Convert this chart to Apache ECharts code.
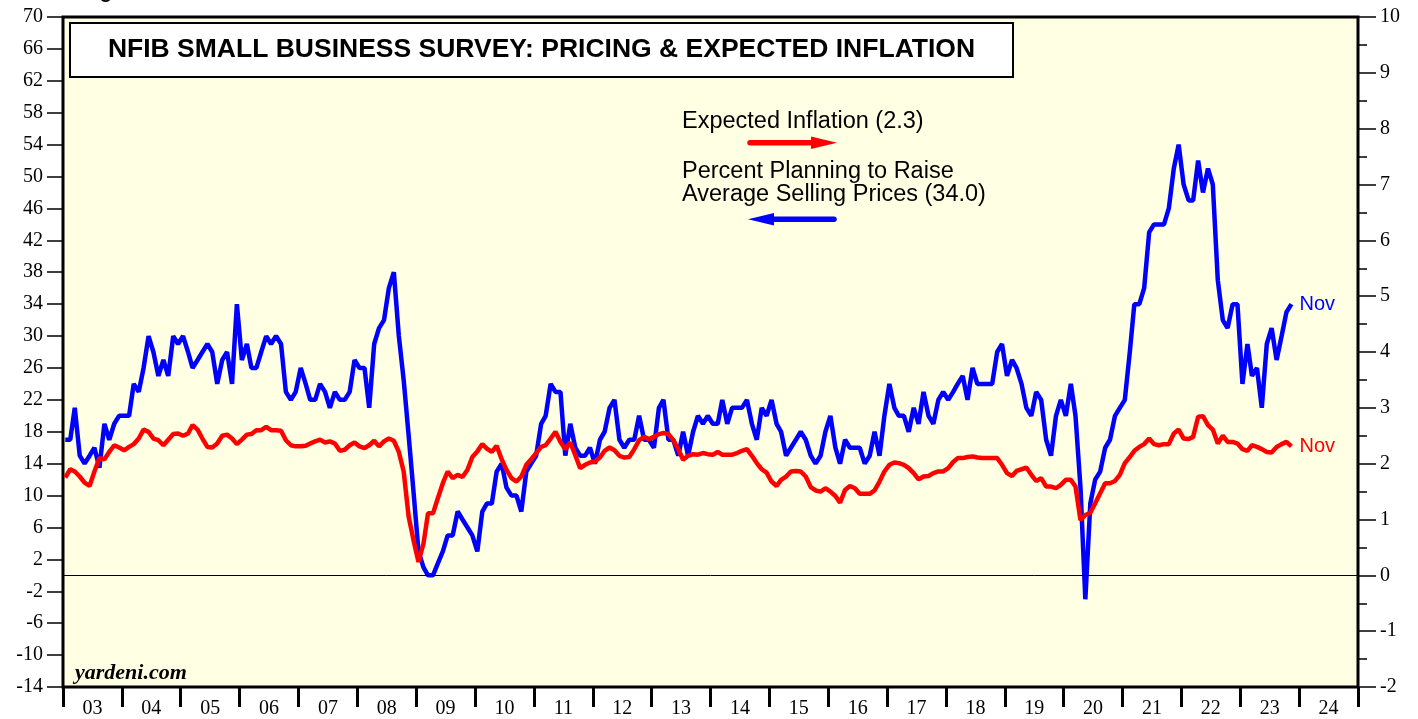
<!DOCTYPE html>
<html>
<head>
<meta charset="utf-8">
<title>NFIB Small Business Survey: Pricing & Expected Inflation</title>
<script src="https://cdn.jsdelivr.net/npm/echarts@6.0.0/dist/echarts.min.js"></script>
<style>
  html, body { margin: 0; padding: 0; background: #fff; }
  #chart { width: 1418px; height: 719px; }
</style>
</head>
<body>
<div id="chart"></div>
<script>
// monthly data, Jan 2003 .. Nov 2023
var START_YEAR = 2003;

// net % planning to raise average selling prices (left axis)
var PRICE_PLANS = [
  17, 17, 21, 15, 14, 15, 16, 13.5, 19, 17, 19, 20,   // 03
  20, 20, 24, 23, 26, 30, 28, 25, 27, 25, 30, 29,     // 04
  30, 28, 26, 27, 28, 29, 28, 24, 27, 28, 24, 34,     // 05
  27, 29, 26, 26, 28, 30, 29, 30, 29, 23, 22, 23,     // 06
  26, 24, 22, 22, 24, 23, 21, 23, 22, 22, 23, 27,     // 07
  26, 26, 21, 29, 31, 32, 36, 38, 30, 24.5, 17.5, 10.5, // 08
  3, 1, 0, 0, 1.5, 3, 5, 5, 8, 7, 6, 5,               // 09
  3, 8, 9, 9, 13, 14, 11, 10, 10, 8, 13, 14,          // 10
  15, 19, 20, 24, 23, 23, 15, 19, 16, 15, 15, 16,     // 11
  14, 17, 18, 21, 22, 17, 16, 17, 17, 20, 17, 17,     // 12
  16, 21, 22, 17, 17, 15, 18, 15, 18, 20, 19, 20,     // 13
  19, 19, 22, 19, 21, 21, 21, 22, 19, 17, 21, 20,     // 14
  22, 19, 18, 15, 16, 17, 18, 17, 15, 14, 15, 18,     // 15
  20, 16, 14, 17, 16, 16, 16, 14, 15, 18, 15, 20,     // 16
  24, 21, 20, 20, 18, 21, 19, 23, 20, 19, 22, 23,     // 17
  22, 23, 24, 25, 22, 26, 24, 24, 24, 24, 28, 29,     // 18
  25, 27, 26, 24, 21, 20, 23, 22, 17, 15, 20, 22,     // 19
  20, 24, 20, 11, -3, 9, 12, 13, 16, 17, 20, 21,      // 20
  22, 28, 34, 34, 36, 43, 44, 44, 44, 46, 51, 54,     // 21
  49, 47, 47, 52, 48, 51, 49, 37, 32, 31, 34, 34,     // 22
  24, 29, 25, 26, 21, 29, 31, 27, 30, 33, 34          // 23
];

// expected inflation, % (right axis)
var EXP_INFLATION = [
  1.75, 1.90, 1.86, 1.77, 1.66, 1.60, 1.86, 2.10, 2.08, 2.21, 2.33, 2.29,
  2.24, 2.30, 2.35, 2.45, 2.61, 2.57, 2.45, 2.42, 2.33, 2.43, 2.53, 2.54,
  2.50, 2.54, 2.69, 2.61, 2.45, 2.30, 2.29, 2.36, 2.50, 2.52, 2.45, 2.35,
  2.43, 2.52, 2.53, 2.60, 2.60, 2.66, 2.60, 2.60, 2.59, 2.42, 2.33, 2.31,
  2.31, 2.32, 2.36, 2.40, 2.43, 2.38, 2.40, 2.36, 2.23, 2.25, 2.33, 2.38,
  2.31, 2.28, 2.33, 2.41, 2.31, 2.40, 2.45, 2.41, 2.21, 1.86, 1.05, 0.63,
  0.24, 0.57, 1.11, 1.11, 1.38, 1.65, 1.86, 1.74, 1.80, 1.76, 1.89, 2.12,
  2.22, 2.35, 2.27, 2.21, 2.32, 2.08, 1.89, 1.74, 1.68, 1.77, 1.98, 2.08,
  2.19, 2.30, 2.33, 2.45, 2.57, 2.39, 2.26, 2.38, 2.15, 1.92, 1.98, 2.02,
  2.04, 2.11, 2.23, 2.29, 2.24, 2.14, 2.11, 2.12, 2.26, 2.42, 2.48, 2.44,
  2.48, 2.53, 2.55, 2.53, 2.42, 2.26, 2.07, 2.14, 2.17, 2.16, 2.19, 2.17,
  2.16, 2.21, 2.16, 2.16, 2.16, 2.19, 2.23, 2.26, 2.14, 2.01, 1.90, 1.84,
  1.68, 1.60, 1.71, 1.77, 1.86, 1.87, 1.86, 1.77, 1.58, 1.52, 1.50, 1.56,
  1.50, 1.42, 1.30, 1.53, 1.60, 1.56, 1.46, 1.46, 1.46, 1.52, 1.68, 1.86,
  1.98, 2.02, 2.01, 1.98, 1.92, 1.83, 1.72, 1.77, 1.78, 1.83, 1.86, 1.86,
  1.92, 2.03, 2.10, 2.10, 2.12, 2.13, 2.11, 2.10, 2.10, 2.10, 2.10, 1.98,
  1.83, 1.78, 1.87, 1.90, 1.93, 1.80, 1.69, 1.74, 1.59, 1.59, 1.56, 1.62,
  1.71, 1.71, 1.59, 0.99, 1.08, 1.12, 1.29, 1.47, 1.65, 1.65, 1.69, 1.80,
  2.01, 2.12, 2.23, 2.30, 2.35, 2.45, 2.35, 2.33, 2.35, 2.35, 2.54, 2.61,
  2.45, 2.44, 2.48, 2.84, 2.85, 2.69, 2.61, 2.36, 2.50, 2.39, 2.39, 2.36,
  2.26, 2.23, 2.33, 2.30, 2.26, 2.21, 2.20, 2.30, 2.35, 2.39, 2.31
];

var YEAR_LABELS = ['03', '04', '05', '06', '07', '08', '09', '10', '11', '12', '13',
                   '14', '15', '16', '17', '18', '19', '20', '21', '22', '23', '24'];
var LEFT_TICKS = [-14, -10, -6, -2, 2, 6, 10, 14, 18, 22, 26, 30, 34, 38, 42, 46, 50, 54, 58, 62, 66, 70];

var SERIF = '"Liberation Serif", "Times New Roman", serif';
var SANS = '"Liberation Sans", Arial, sans-serif';

// month dates, plotted mid-month
var dates = PRICE_PLANS.map(function (v, i) {
  return new Date(START_YEAR + Math.floor(i / 12), i % 12, 15).getTime();
});

var chart = echarts.init(document.getElementById('chart'));

var option = {
  animation: false,
  backgroundColor: '#fff',
  grid: {
    left: 63, right: 60, top: 17, bottom: 32,
    show: true,
    backgroundColor: '#FFFFE3',
    borderColor: '#000',
    borderWidth: 3
  },
  xAxis: [
    {
      type: 'category',
      data: YEAR_LABELS,
      boundaryGap: true,
      axisLine: { show: false, onZero: false },
      axisTick: { show: true, interval: 0, length: 20, lineStyle: { color: '#000', width: 3 } },
      axisLabel: { interval: 0, color: '#000', fontFamily: SERIF, fontSize: 20, margin: 12 },
      splitLine: { show: false }
    },
    {
      type: 'time',
      min: new Date(START_YEAR, 0, 1).getTime(),
      max: new Date(2025, 0, 1).getTime(),
      axisLine: { onZero: false },
      show: false
    }
  ],
  yAxis: [
    {
      type: 'value',
      position: 'left',
      min: -14,
      max: 70,
      axisLine: { show: false },
      axisTick: { show: true, customValues: LEFT_TICKS, length: 16, lineStyle: { color: '#000', width: 1.5 } },
      axisLabel: { customValues: LEFT_TICKS, color: '#000', fontFamily: SERIF, fontSize: 20, margin: 20 },
      splitLine: { show: false }
    },
    {
      type: 'value',
      position: 'right',
      min: -2,
      max: 10,
      interval: 1,
      axisLine: { show: false },
      axisTick: { show: true, length: 18, lineStyle: { color: '#000', width: 1.5 } },
      minorTick: { show: true, splitNumber: 2, length: 9, lineStyle: { color: '#000', width: 1.5 } },
      axisLabel: { color: '#000', fontFamily: SERIF, fontSize: 20, margin: 22 },
      splitLine: { show: false },
      minorSplitLine: { show: false }
    }
  ],
  series: [
    {
      name: 'Percent Planning to Raise Average Selling Prices',
      type: 'line',
      xAxisIndex: 1,
      yAxisIndex: 0,
      data: dates.map(function (d, i) { return [d, PRICE_PLANS[i]]; }),
      symbol: 'none',
      lineStyle: { color: '#0000FF', width: 4.5 },
      itemStyle: { color: '#0000FF' },
      endLabel: { show: true, formatter: 'Nov', color: '#0000FF', fontFamily: SANS, fontSize: 20, distance: 8 },
      markLine: {
        silent: true,
        symbol: 'none',
        label: { show: false },
        lineStyle: { color: '#000', width: 1, type: 'solid' },
        data: [{ yAxis: 0 }]
      },
      z: 3
    },
    {
      name: 'Expected Inflation',
      type: 'line',
      xAxisIndex: 1,
      yAxisIndex: 1,
      data: dates.map(function (d, i) { return [d, EXP_INFLATION[i]]; }),
      symbol: 'none',
      lineStyle: { color: '#FF0000', width: 4.5 },
      itemStyle: { color: '#FF0000' },
      endLabel: { show: true, formatter: 'Nov', color: '#FF0000', fontFamily: SANS, fontSize: 20, distance: 8 },
      z: 4
    }
  ],
  graphic: [
    // clipped caption above the frame
    {
      type: 'text', x: 82, y: 2, z: 0,
      style: { text: 'Figure 6.', fill: '#000', fontFamily: SANS, fontWeight: 'bold', fontSize: 20, align: 'left', verticalAlign: 'bottom' }
    },
    {
      type: 'rect', z: 100,
      shape: { x: 70, y: 23, width: 943, height: 54 },
      style: { fill: '#fff', stroke: '#000', lineWidth: 2 }
    },
    {
      type: 'text', x: 541.5, y: 50, z: 101,
      style: {
        text: 'NFIB SMALL BUSINESS SURVEY: PRICING & EXPECTED INFLATION',
        fill: '#000', fontFamily: SANS, fontWeight: 'bold', fontSize: 26.5,
        align: 'center', verticalAlign: 'middle'
      }
    },
    {
      type: 'text', x: 682, y: 122, z: 101,
      style: { text: 'Expected Inflation (2.3)', fill: '#000', fontFamily: SANS, fontSize: 23.5, align: 'left', verticalAlign: 'middle' }
    },
    {
      type: 'line', z: 101,
      shape: { x1: 750, y1: 142.7, x2: 815, y2: 142.7 },
      style: { stroke: '#FF0000', lineWidth: 5.5, lineCap: 'round' }
    },
    {
      type: 'polygon', z: 101,
      shape: { points: [[811, 136.5], [837, 142.7], [811, 149]] },
      style: { fill: '#FF0000' }
    },
    {
      type: 'text', x: 682, y: 171.5, z: 101,
      style: { text: 'Percent Planning to Raise', fill: '#000', fontFamily: SANS, fontSize: 23.5, align: 'left', verticalAlign: 'middle' }
    },
    {
      type: 'text', x: 682, y: 194.5, z: 101,
      style: { text: 'Average Selling Prices (34.0)', fill: '#000', fontFamily: SANS, fontSize: 23.5, align: 'left', verticalAlign: 'middle' }
    },
    {
      type: 'line', z: 101,
      shape: { x1: 770, y1: 219.3, x2: 834, y2: 219.3 },
      style: { stroke: '#0000FF', lineWidth: 5.5, lineCap: 'round' }
    },
    {
      type: 'polygon', z: 101,
      shape: { points: [[774, 213], [748, 219.3], [774, 225.6]] },
      style: { fill: '#0000FF' }
    },
    {
      type: 'text', x: 75, y: 673, z: 101,
      style: { text: 'yardeni.com', fill: '#000', fontFamily: SERIF, fontStyle: 'italic', fontWeight: 'bold', fontSize: 22, align: 'left', verticalAlign: 'middle' }
    }
  ]
};

chart.setOption(option);

window.addEventListener('resize', function () {
  chart.resize();
});
</script>
</body>
</html>
